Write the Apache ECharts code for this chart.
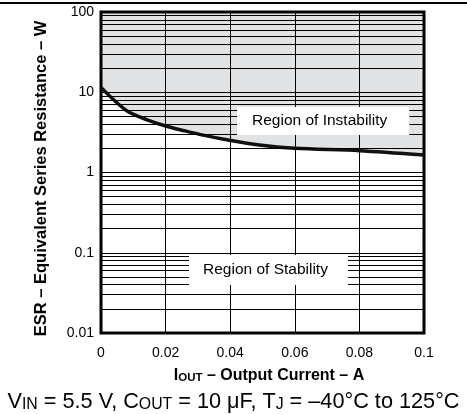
<!DOCTYPE html>
<html>
<head>
<meta charset="utf-8">
<script src="https://cdn.jsdelivr.net/npm/echarts@6/dist/echarts.min.js"></script>
<style>
  html, body { margin: 0; padding: 0; background: #fff; }
  #main { width: 467px; height: 414px; }
</style>
</head>
<body>
<div id="main"></div>
<script>
// output current (A) and ESR boundary (ohm)
var current = [0, 0.004, 0.0085, 0.0145, 0.02, 0.026, 0.032, 0.038, 0.049, 0.06, 0.08, 0.1];
var esr = [11.5, 8.0, 5.7, 4.5, 3.8, 3.3, 2.9, 2.6, 2.2, 2.0, 1.87, 1.65];
var xTicks = ['0', '0.02', '0.04', '0.06', '0.08', '0.1'];
var yDecades = [0.01, 0.1, 1, 10];
var yMinorSteps = [2, 3, 4, 5, 6, 7, 8, 9];

var FONT = 'Liberation Sans, Arial, sans-serif';

var curveData = current.map(function (c, i) { return [c, esr[i]]; });

// log minor grid lines 2..9 in every decade
var minorLines = [];
yDecades.forEach(function (d) {
    yMinorSteps.forEach(function (m) {
        minorLines.push({ yAxis: +(d * m).toPrecision(3) });
    });
});

var chart = echarts.init(document.getElementById('main'));

var option = {
    animation: false,
    textStyle: { fontFamily: FONT },
    title: {
        text: '{n|V}{s|IN}{n| = 5.5 V, C}{s|OUT}{n| = 10 μF, T}{s|J}{n| = –40°C to 125°C}',
        left: 'center',
        top: 389,
        padding: 0,
        textStyle: {
            fontWeight: 'normal',
            rich: {
                n: { fontFamily: FONT, fontSize: 21.7, fontWeight: 'normal', color: '#000', lineHeight: 24, verticalAlign: 'bottom' },
                s: { fontFamily: FONT, fontSize: 15.8, fontWeight: 'normal', color: '#000', lineHeight: 16, verticalAlign: 'bottom', padding: [7, 0, 0, 0] }
            }
        }
    },
    grid: {
        left: 101,
        right: 43,
        top: 12,
        bottom: 81,
        show: true,
        borderColor: '#000',
        borderWidth: 3,
        backgroundColor: 'transparent'
    },
    xAxis: {
        type: 'value',
        min: 0,
        max: 0.1,
        interval: 0.02,
        axisLine: { show: false },
        axisTick: { show: false },
        axisLabel: {
            fontSize: 14,
            color: '#000',
            margin: 13,
            formatter: function (v) { return xTicks[Math.round(v / 0.02)]; }
        },
        splitLine: { show: true, lineStyle: { color: '#000', width: 1 } },
        name: '{b|I}{s|OUT}{b| – Output Current – A}',
        nameLocation: 'middle',
        nameGap: 33,
        nameTextStyle: {
            padding: [0, 0, 0, 13],
            rich: {
                b: { fontFamily: FONT, fontSize: 16, fontWeight: 'bold', color: '#000', lineHeight: 18, verticalAlign: 'bottom' },
                s: { fontFamily: FONT, fontSize: 11.5, fontWeight: 'bold', color: '#000', lineHeight: 12, verticalAlign: 'bottom', padding: [4, 0, 0, 0] }
            }
        }
    },
    yAxis: {
        type: 'log',
        logBase: 10,
        min: 0.01,
        max: 100,
        axisLine: { show: false },
        axisTick: { show: false },
        axisLabel: { fontSize: 14, color: '#000', margin: 7 },
        splitLine: { show: true, lineStyle: { color: '#000', width: 1 } },
        name: 'ESR – Equivalent Series Resistance – W',
        nameLocation: 'middle',
        nameGap: 51,
        nameTextStyle: { fontFamily: FONT, fontSize: 16.5, fontWeight: 'bold', color: '#000', padding: [0, 12, 0, 0] }
    },
    series: [
        {
            // shaded region of instability, under the grid lines
            type: 'line',
            z: -1,
            data: curveData,
            smooth: 0.3,
            symbol: 'none',
            silent: true,
            lineStyle: { width: 0 },
            areaStyle: { origin: 'end', color: '#e1e2e4', opacity: 1 }
        },
        {
            type: 'line',
            z: 1,
            data: [],
            silent: true,
            markLine: {
                silent: true,
                symbol: 'none',
                label: { show: false },
                lineStyle: { type: 'solid', color: '#000', width: 1 },
                data: minorLines
            }
        },
        {
            type: 'line',
            z: 3,
            data: curveData,
            smooth: 0.3,
            symbol: 'none',
            lineStyle: { color: '#111', width: 3.5 }
        }
    ],
    graphic: [
        {
            type: 'line',
            z: 100,
            shape: { x1: 0, y1: 3, x2: 467, y2: 3 },
            style: { stroke: '#000', lineWidth: 2 }
        },
        {
            type: 'text',
            z: 100,
            left: 237,
            top: 107,
            style: {
                text: 'Region of Instability',
                font: '15.5px ' + FONT,
                fill: '#000',
                backgroundColor: '#fff',
                padding: [6, 22, 6, 15]
            }
        },
        {
            type: 'text',
            z: 100,
            left: 189,
            top: 255,
            style: {
                text: 'Region of Stability',
                font: '15.5px ' + FONT,
                fill: '#000',
                backgroundColor: '#fff',
                padding: [7, 20, 7, 14]
            }
        }
    ]
};

chart.setOption(option);
</script>
</body>
</html>
